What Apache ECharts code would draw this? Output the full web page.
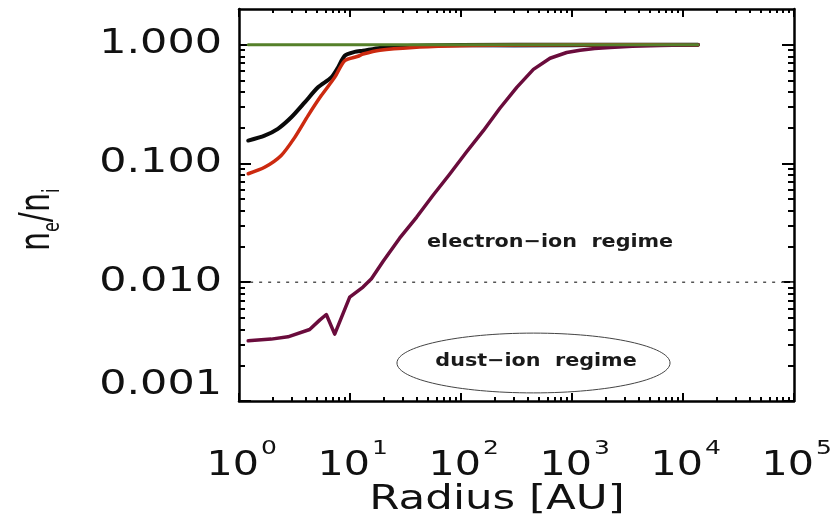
<!DOCTYPE html>
<html>
<head>
<meta charset="utf-8">
<script src="https://cdn.jsdelivr.net/npm/echarts@6/dist/echarts.min.js"></script>
<style>
  html, body { margin: 0; padding: 0; background: #ffffff; }
  #chart { width: 840px; height: 515px; }
</style>
</head>
<body>
<div id="chart"></div>
<script>
// ---- data: electron-to-ion density ratio against radius ----
const radiusBlack = [1.21, 1.70, 2.24, 2.96, 3.91, 5.15, 6.79, 7.80, 8.96, 11.0, 13.1, 18.6, 37, 100, 1000, 13650];
const ratioBlack  = [0.156, 0.172, 0.196, 0.245, 0.327, 0.438, 0.531, 0.644, 0.809, 0.87, 0.89, 0.94, 0.98, 0.995, 1.0, 1.0];

const radiusRed = [1.21, 1.70, 2.40, 3.18, 4.19, 5.51, 7.28, 8.96, 11.8, 13.1, 18.6, 37, 80, 200, 1000, 13650];
const ratioRed  = [0.082, 0.093, 0.117, 0.166, 0.253, 0.373, 0.531, 0.734, 0.80, 0.835, 0.90, 0.95, 0.975, 0.99, 1.0, 1.0];

const radiusPurple = [1.21, 1.95, 2.76, 4.33, 5.33, 6.12, 7.28, 9.94, 13.1, 15.6, 19.9, 28, 39.9, 56, 79.6, 112, 159, 224, 318, 449, 634, 896, 1180, 1600, 2200, 3500, 6200, 13650];
const ratioPurple  = [0.00321, 0.00332, 0.00347, 0.0040, 0.0048, 0.00535, 0.00366, 0.0075, 0.0091, 0.0107, 0.0150, 0.0235, 0.0354, 0.054, 0.082, 0.125, 0.189, 0.292, 0.438, 0.62, 0.77, 0.86, 0.90, 0.93, 0.95, 0.97, 0.985, 1.0];

const radiusBlue = [40, 100, 300, 1000, 3000, 13650];
const ratioBlue  = [0.99, 0.975, 0.972, 0.975, 0.99, 1.0];

const radiusGreen = [1.21, 13650];
const ratioGreen  = [1.0, 1.0];

// boundary between the two regimes
const regimeRadius = [1.26, 100000];
const regimeRatio  = [0.01, 0.01];

// ---- axes ----
const xMin = 1, xMax = 100000;
const yMin = 0.001, yMax = 2;
const xMajorTicks = [1, 10, 100, 1000, 10000, 100000];
const xExponents  = ['0', '1', '2', '3', '4', '5'];
const yMajorTicks = [0.001, 0.01, 0.1, 1];
const yTickLabels = ['0.001', '0.010', '0.100', '1.000'];

const minorMultipliers = [2, 3, 4, 5, 6, 7, 8, 9];
function minorTicks(decades) {
  const out = [];
  decades.forEach(d => minorMultipliers.forEach(m => out.push(+(m * d).toPrecision(6))));
  return out;
}
const xMinorTicks = minorTicks([1, 10, 100, 1000, 10000]);
const yMinorTicks = minorTicks([0.001, 0.01, 0.1]);

// ---- annotation anchors (data space) ----
const electronLabelAt = [635, 0.0217];
const dustLabelAt = [474, 0.00217];
const dustEllipseX = [26.5, 7640];
const dustEllipseY = [0.00373, 0.00117];

const pairs = (xs, ys) => xs.map((x, i) => [x, ys[i]]);

const FRAME = '#000000';
const gridBox = { left: 239, right: 46, top: 9, bottom: 114 };

function xAxisDef(position, ticks, len, showLine) {
  return {
    type: 'log', logBase: 10, min: xMin, max: xMax, position: position,
    axisLine: { show: showLine, onZero: false, lineStyle: { color: FRAME, width: 2.5 } },
    axisTick: { show: true, inside: true, length: len, customValues: ticks, lineStyle: { color: FRAME, width: 2 } },
    axisLabel: { show: false },
    splitLine: { show: false },
    minorTick: { show: false }
  };
}
function yAxisDef(position, ticks, len, showLine) {
  return {
    type: 'log', logBase: 10, min: yMin, max: yMax, position: position,
    axisLine: { show: showLine, onZero: false, lineStyle: { color: FRAME, width: 2.5 } },
    axisTick: { show: true, inside: true, length: len, customValues: ticks, lineStyle: { color: FRAME, width: 2 } },
    axisLabel: { show: false },
    splitLine: { show: false },
    minorTick: { show: false }
  };
}

function curve(name, xs, ys, color, width, z, smooth) {
  return {
    name: name, type: 'line', xAxisIndex: 0, yAxisIndex: 0,
    data: pairs(xs, ys), showSymbol: false, symbol: 'none', smooth: smooth,
    lineStyle: { color: color, width: width, cap: 'round', join: 'round' }, z: z, silent: true
  };
}

const chart = echarts.init(document.getElementById('chart'), null, { renderer: 'canvas' });

const option = {
  animation: false,
  backgroundColor: '#ffffff',
  grid: Object.assign({ containLabel: false }, gridBox),
  xAxis: [
    xAxisDef('bottom', xMajorTicks, 8, true),
    xAxisDef('bottom', xMinorTicks, 4, false),
    xAxisDef('top', xMajorTicks, 8, true),
    xAxisDef('top', xMinorTicks, 4, false)
  ],
  yAxis: [
    yAxisDef('left', yMajorTicks, 12, true),
    yAxisDef('left', yMinorTicks, 6, false),
    yAxisDef('right', yMajorTicks, 12, true),
    yAxisDef('right', yMinorTicks, 6, false)
  ],
  series: [
    {
      type: 'line', xAxisIndex: 0, yAxisIndex: 0, data: pairs(regimeRadius, regimeRatio),
      showSymbol: false, symbol: 'none', silent: true, z: 1,
      lineStyle: { color: '#555555', width: 1.5, type: [3, 6] }
    },
    curve('blue', radiusBlue, ratioBlue, '#1f3b6e', 2.5, 2, false),
    curve('black', radiusBlack, ratioBlack, '#0a0a0a', 4, 3, 0.25),
    curve('red', radiusRed, ratioRed, '#cc2a10', 3.5, 4, 0.25),
    curve('purple', radiusPurple, ratioPurple, '#6a0c3c', 3.5, 5, false),
    curve('green', radiusGreen, ratioGreen, '#55802a', 3, 6, false)
  ]
};
chart.setOption(option);

// ---- text and annotation overlay, placed through the axis scales ----
const px = v => chart.convertToPixel({ xAxisIndex: 0 }, v);
const py = v => chart.convertToPixel({ yAxisIndex: 0 }, v);
const measureCtx = document.createElement('canvas').getContext('2d');
function textWidth(str, font) { measureCtx.font = font; return measureCtx.measureText(str).width; }

const LABEL_FONT = 'DejaVu Sans';
const TEXT = '#111111';
const graphics = [];

const plotLeft = px(xMin);
const plotBottom = py(yMin);

// y tick labels (the lowest one lifted clear of the x labels)
yMajorTicks.forEach((v, i) => {
  const y = Math.min(py(v), plotBottom - 16);
  graphics.push({
    type: 'text', x: plotLeft - 17, y: y, scaleX: 1.3, silent: true,
    style: { text: yTickLabels[i], font: '33px "' + LABEL_FONT + '"', fill: TEXT, align: 'right', verticalAlign: 'middle' }
  });
});

// x tick labels as 10 with a raised exponent
xMajorTicks.forEach((v, i) => {
  const x = px(v);
  graphics.push({
    type: 'text', x: x + 20, y: plotBottom + 65, scaleX: 1.25, silent: true,
    style: { text: '10', font: '33px "' + LABEL_FONT + '"', fill: TEXT, align: 'right', verticalAlign: 'middle' }
  });
  graphics.push({
    type: 'text', x: x + 22, y: plotBottom + 48, scaleX: 1.25, silent: true,
    style: { text: xExponents[i], font: '20px "' + LABEL_FONT + '"', fill: TEXT, align: 'left', verticalAlign: 'middle' }
  });
});

// x axis title
graphics.push({
  type: 'text', x: 497, y: plotBottom + 99, scaleX: 1.28, silent: true,
  style: { text: 'Radius [AU]', font: '34px "' + LABEL_FONT + '"', fill: TEXT, align: 'center', verticalAlign: 'middle' }
});

// y axis title n_e / n_i, written bottom to top
(function () {
  const big = '30px "' + LABEL_FONT + '"';
  const small = '16px "' + LABEL_FONT + '"';
  const parts = [
    { t: 'n', f: big, dy: 0 },
    { t: 'e', f: small, dy: 10 },
    { t: '/', f: big, dy: 0 },
    { t: 'n', f: big, dy: 0 },
    { t: 'i', f: small, dy: 10 }
  ];
  let cursor = 0;
  const children = parts.map(p => {
    const el = {
      type: 'text', x: cursor, y: p.dy, silent: true,
      style: { text: p.t, font: p.f, fill: TEXT, align: 'left', verticalAlign: 'middle' }
    };
    cursor += textWidth(p.t, p.f);
    return el;
  });
  graphics.push({
    type: 'group', x: 38, y: 251, rotation: Math.PI / 2, scaleY: 1.45, silent: true,
    children: children
  });
})();

// regime annotations
graphics.push({
  type: 'text', x: px(electronLabelAt[0]), y: py(electronLabelAt[1]), scaleX: 1.15, silent: true,
  style: { text: 'electron\u2212ion  regime', font: 'bold 18px "' + LABEL_FONT + '"', fill: '#1a1a1a', align: 'center', verticalAlign: 'middle' }
});
(function () {
  const x0 = px(dustEllipseX[0]), x1 = px(dustEllipseX[1]);
  const y0 = py(dustEllipseY[0]), y1 = py(dustEllipseY[1]);
  graphics.push({
    type: 'ellipse', silent: true,
    shape: { cx: (x0 + x1) / 2, cy: (y0 + y1) / 2, rx: (x1 - x0) / 2, ry: (y1 - y0) / 2 },
    style: { fill: 'none', stroke: '#444444', lineWidth: 1 }
  });
})();
graphics.push({
  type: 'text', x: px(dustLabelAt[0]), y: py(dustLabelAt[1]), scaleX: 1.15, silent: true,
  style: { text: 'dust\u2212ion  regime', font: 'bold 18px "' + LABEL_FONT + '"', fill: '#1a1a1a', align: 'center', verticalAlign: 'middle' }
});

chart.setOption({ graphic: graphics });
</script>
</body>
</html>
